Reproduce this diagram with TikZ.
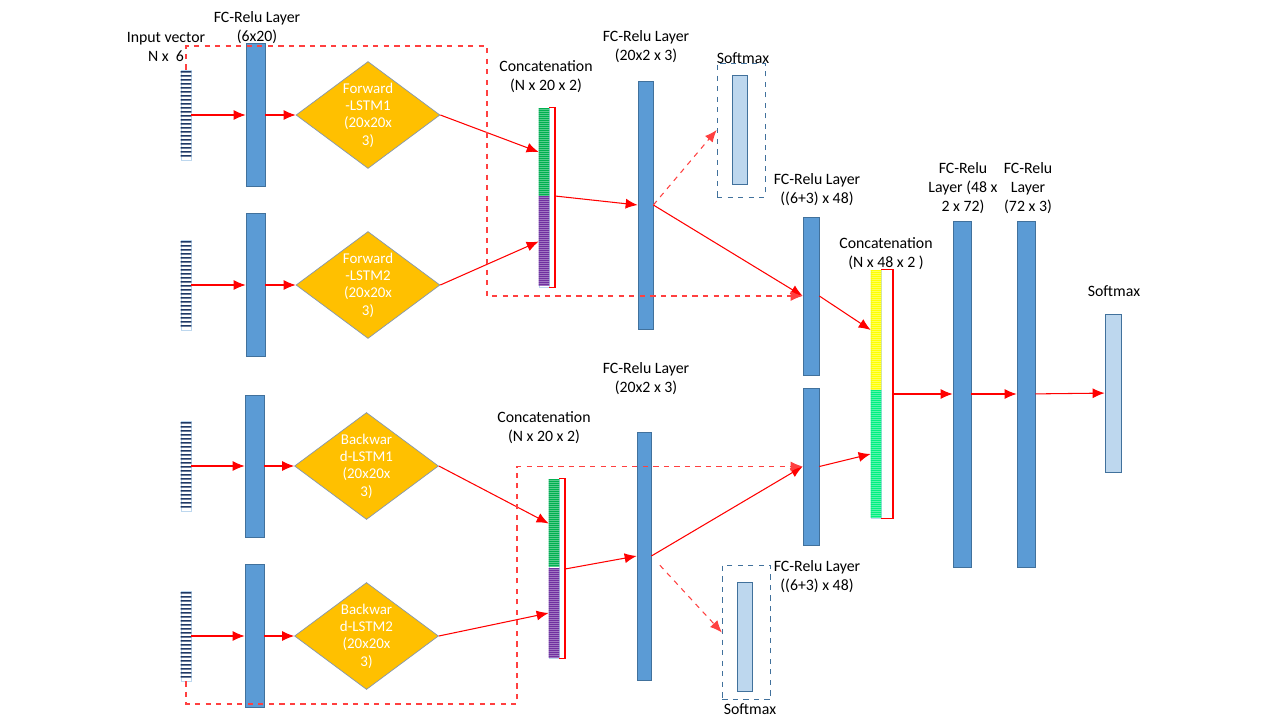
\documentclass[tikz,border=0pt]{standalone}
\usepackage{fontspec}
\setmainfont{Carlito}
\usetikzlibrary{arrows.meta, shapes.geometric, calc}

\definecolor{fcblue}{HTML}{5B9BD5}
\definecolor{fcedge}{HTML}{41719C}
\definecolor{lstmgold}{HTML}{FFC000}
\definecolor{lstmedge}{HTML}{8497B0}
\definecolor{smblue}{HTML}{BDD7EE}
\definecolor{vecnavy}{HTML}{1F3864}
\definecolor{vecedge}{HTML}{BDD7EE}
\definecolor{sgreen}{HTML}{00B050}
\definecolor{spurple}{HTML}{7030A0}
\definecolor{syellow}{HTML}{FFFF00}
\definecolor{sspring}{HTML}{00F080}

\begin{document}
\begin{tikzpicture}[x=0.02cm, y=-0.02cm, >={Latex[length=2.4mm,width=2mm]},
  vec/.style={rectangle, draw=vecedge, fill=white, inner sep=0pt, minimum width=0.2cm, minimum height=1.8cm},
  fc/.style={rectangle, draw=fcedge, fill=fcblue, inner sep=0pt, minimum width=0.38cm},
  big/.style={rectangle, draw=fcedge, fill=fcblue, inner sep=0pt, minimum width=0.3cm, minimum height=4.96cm},
  lstm/.style={diamond, draw=lstmedge, fill=lstmgold, text=white, aspect=1.35, inner sep=0pt,
    minimum width=2.88cm, minimum height=2.14cm, align=center, font=\fontsize{8.5}{9.9}\selectfont},
  cat/.style={rectangle, draw=vecedge, fill=white, inner sep=0pt, minimum width=0.2cm},
  smbox/.style={rectangle, draw=fcedge, dashed, inner sep=0pt, minimum width=0.97cm, minimum height=2.69cm},
  sm/.style={rectangle, draw=fcedge, fill=smblue, inner sep=0pt, minimum width=0.3cm},
  link/.style={red, line width=0.6pt, ->},
  skip/.style={red!75, dashed, line width=0.6pt, ->},
  brk/.style={red, line width=0.6pt},
  lbl/.style={align=center, inner sep=0pt, font=\fontsize{9}{10.8}\selectfont}]

  \useasboundingbox (0,0) rectangle (1280,720);

  %% input vectors
  \node (iv1) at (186,115) [vec] {};
  \node (iv2) at (186,285) [vec] {};
  \node (iv3) at (186,466) [vec] {};
  \node (iv4) at (186,636) [vec] {};
  \foreach \v in {iv1,iv2,iv3,iv4}
    \fill[vecnavy] \foreach \i in {1,...,22} {($(\v.north west)+(0,4*\i-2.5)$) rectangle ($(\v.north east)+(0,4*\i-1)$)};

  %% first FC layers
  \node (fc1) at (255.5,115) [fc, minimum height=2.86cm] {};
  \node (fc2) at (255.5,285) [fc, minimum height=2.86cm] {};
  \node (fc3) at (254.5,466) [fc, minimum height=2.84cm] {};
  \node (fc4) at (254.5,636) [fc, minimum height=2.86cm] {};

  %% LSTMs
  \node (ls1) at (368,115) [lstm] {Forward\\-LSTM1\\(20x20x\\3)};
  \node (ls2) at (368,285) [lstm] {Forward\\-LSTM2\\(20x20x\\3)};
  \node (ls3) at (366.5,466) [lstm] {Backwar\\d-LSTM1\\(20x20x\\3)};
  \node (ls4) at (366.5,636) [lstm] {Backwar\\d-LSTM2\\(20x20x\\3)};

  %% concatenations
  \node (cg1) at (544,152) [cat, minimum height=1.76cm] {};
  \node (cp1) at (544,241.5) [cat, minimum height=1.82cm] {};
  \node (cg3) at (554,523.5) [cat, minimum height=1.78cm] {};
  \node (cp3) at (554,613) [cat, minimum height=1.8cm] {};
  \node (cy2) at (876,330) [cat, minimum height=2.4cm] {};
  \node (cs2) at (876,454) [cat, minimum height=2.56cm] {};
  \fill[sgreen] \foreach \i in {1,...,44} {($(cg1.north west)+(0,2*\i-1.5)$) rectangle ($(cg1.north east)+(0,2*\i)$)};
  \fill[spurple] \foreach \i in {1,...,45} {($(cp1.north west)+(0,2*\i-1.5)$) rectangle ($(cp1.north east)+(0,2*\i)$)};
  \fill[sgreen] \foreach \i in {1,...,44} {($(cg3.north west)+(0,2*\i-1.5)$) rectangle ($(cg3.north east)+(0,2*\i)$)};
  \fill[spurple] \foreach \i in {1,...,45} {($(cp3.north west)+(0,2*\i-1.5)$) rectangle ($(cp3.north east)+(0,2*\i)$)};
  \fill[syellow] \foreach \i in {1,...,60} {($(cy2.north west)+(0,2*\i-1.5)$) rectangle ($(cy2.north east)+(0,2*\i)$)};
  \fill[sspring] \foreach \i in {1,...,64} {($(cs2.north west)+(0,2*\i-1.5)$) rectangle ($(cs2.north east)+(0,2*\i)$)};

  \coordinate (b1) at (555,196);
  \coordinate (b3) at (565,569);
  \coordinate (b2) at (893,394);
  \draw[brk] (cg1.north east) -| (b1) |- (cp1.south east);
  \draw[brk] (cg3.north east) -| (b3) |- (cp3.south east);
  \draw[brk] (cy2.north east) -| (b2) |- (cs2.south east);

  %% middle FC layers
  \node (fcb1) at (645.5,205) [big] {};
  \node (fcb2) at (644,556) [big, minimum width=0.28cm] {};
  \node (fc5) at (811,296) [fc, minimum width=0.32cm, minimum height=3.16cm] {};
  \node (fc6) at (811,466.5) [fc, minimum width=0.32cm, minimum height=3.14cm] {};
  \node (fc7) at (962,394) [fc, minimum width=0.36cm, minimum height=6.92cm] {};
  \node (fc8) at (1026,394) [fc, minimum width=0.36cm, minimum height=6.92cm] {};

  %% softmax
  \node (smb1) at (741,130) [smbox, minimum width=0.96cm, minimum height=2.68cm] {};
  \node (sm1) at (740,129.5) [sm, minimum height=2.18cm] {};
  \node (smb2) at (746.5,632.5) [smbox] {};
  \node (sm2) at (744.5,636.5) [sm, minimum height=2.18cm] {};
  \node (sm3) at (1113,393) [sm, minimum width=0.32cm, minimum height=3.16cm] {};

  %% connections
  \draw[link] (iv1) -- (fc1);
  \draw[link] (iv2) -- (fc2);
  \draw[link] (iv3) -- (fc3);
  \draw[link] (iv4) -- (fc4);
  \draw[link] (fc1) -- (ls1);
  \draw[link] (fc2) -- (ls2);
  \draw[link] (fc3) -- (ls3);
  \draw[link] (fc4) -- (ls4);
  \draw[link] (ls1.east) -- (cg1.west);
  \draw[link] (ls2.east) -- (cp1.west);
  \draw[link] (ls3.east) -- (cg3.west);
  \draw[link] (ls4.east) -- (cp3.west);
  \draw[link] (b1) -- (fcb1.west);
  \draw[link] (b3) -- (fcb2.west);
  \draw[link] (fcb1.east) -- (fc5.west);
  \draw[link] (fcb2.east) -- (fc6.west);
  \draw[skip] (fcb1.east) -- (smb1.west);
  \draw[skip, shorten <=0.25cm] (fcb2.east) -- (smb2.west);
  \draw[link] (fc5.east) -- (cy2.west);
  \draw[link] (fc6.east) -- (cs2.west);
  \draw[link] (b2) -- (fc7.west);
  \draw[link] (fc7) -- (fc8);
  \draw[link] (fc8) -- (sm3);

  %% skip connections
  \draw[skip] (iv1.north) |- (487,46) |- (fc5.west);
  \draw[skip] (iv4.south) |- (517,704) |- (fc6.west);

  %% labels
  \node (tin) at (166,47) [lbl] {Input vector\\N x\ \ 6};
  \node (tfc1) at (257,27.5) [lbl] {FC-Relu Layer\\(6x20)};
  \node (tcc1) at (546,77) [lbl] {Concatenation\\(N x 20 x 2)};
  \node (tfcb1) at (646,46.5) [lbl] {FC-Relu Layer\\(20x2 x 3)};
  \node (tsm1) at (743,58) [lbl] {Softmax};
  \node (tfc5) at (817,190) [lbl] {FC-Relu Layer\\((6+3) x 48)};
  \node (tcc2) at (886,254) [lbl] {Concatenation\\(N x 48 x 2 )};
  \node (tfc7) at (963,188) [lbl] {FC-Relu\\Layer (48 x\\2 x 72)};
  \node (tfc8) at (1028,188) [lbl] {FC-Relu\\Layer\\(72 x 3)};
  \node (tsm3) at (1114,291) [lbl] {Softmax};
  \node (tfcb2) at (646,378.5) [lbl] {FC-Relu Layer\\(20x2 x 3)};
  \node (tcc3) at (544,427.5) [lbl] {Concatenation\\(N x 20 x 2)};
  \node (tfc6) at (817,576.5) [lbl] {FC-Relu Layer\\((6+3) x 48)};
  \node (tsm2) at (750,709) [lbl] {Softmax};
\end{tikzpicture}
\end{document}
